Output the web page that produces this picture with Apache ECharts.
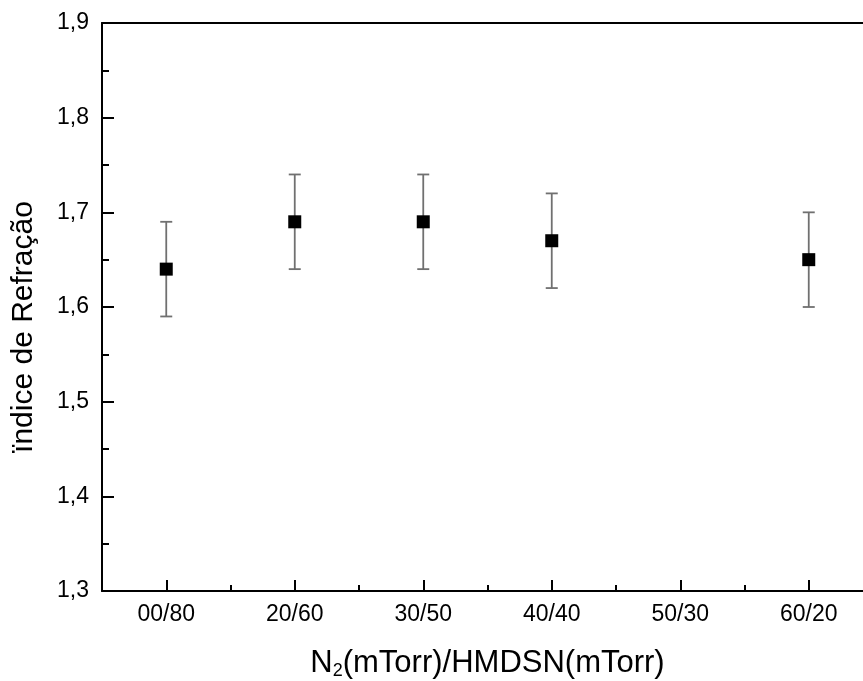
<!DOCTYPE html>
<html>
<head>
<meta charset="utf-8">
<script src="https://cdn.jsdelivr.net/npm/echarts@6/dist/echarts.min.js"></script>
<style>html,body{margin:0;padding:0;background:#fff;}#c{width:863px;height:681px;}</style>
</head>
<body>
<div id="c"></div>
<script>
const categories = ['00/80', '20/60', '30/50', '40/40', '50/30', '60/20'];
const values = [1.64, 1.69, 1.69, 1.67, null, 1.65];
const errors = [0.05, 0.05, 0.05, 0.05, null, 0.05];
const yMin = 1.3, yMax = 1.9, yStep = 0.1;
const xTitle = 'N{sub|2}(mTorr)/HMDSN(mTorr)';
const yTitle = 'ïndice de Refração';

const FONT = 'Liberation Sans, Arial, sans-serif';
const chart = echarts.init(document.getElementById('c'), null, {renderer: 'canvas'});

const pointData = [];
const errData = [];
categories.forEach((c, i) => {
  if (values[i] != null) {
    pointData.push([i, values[i]]);
    errData.push([i, values[i] - errors[i], values[i] + errors[i]]);
  }
});

const gridRect = {left: 102, top: 23, right: -10, bottom: 90, containLabel: false, outerBoundsMode: 'none', show: false};

chart.setOption({
  backgroundColor: '#fff',
  animation: false,
  grid: [Object.assign({}, gridRect), Object.assign({}, gridRect), Object.assign({}, gridRect)],
  xAxis: [{
    type: 'category', gridIndex: 0, data: categories, boundaryGap: true, position: 'bottom',
    axisLine: {show: true, lineStyle: {color: '#000', width: 2}},
    axisTick: {show: true, inside: true, alignWithLabel: true, length: 11, lineStyle: {color: '#000', width: 2}},
    axisLabel: {color: '#000', fontSize: 23, fontFamily: FONT, margin: 12, interval: 0},
    splitLine: {show: false},
    name: xTitle, nameLocation: 'middle', nameGap: 56,
    nameTextStyle: {color: '#000', fontSize: 31, fontFamily: FONT,
      rich: {sub: {fontSize: 18, fontFamily: FONT, color: '#000', verticalAlign: 'bottom', padding: [15, 0, 0, 0]}}}
  }, {
    type: 'category', gridIndex: 1, data: categories, boundaryGap: true, position: 'bottom',
    axisLine: {show: false},
    axisTick: {show: true, inside: true, alignWithLabel: false, length: 6, lineStyle: {color: '#000', width: 2}},
    axisLabel: {show: false}, splitLine: {show: false}
  }, {
    type: 'category', gridIndex: 2, data: categories, boundaryGap: true, position: 'top',
    axisLine: {show: true, lineStyle: {color: '#000', width: 2}},
    axisTick: {show: false}, axisLabel: {show: false}, splitLine: {show: false}
  }],
  yAxis: [{
    type: 'value', gridIndex: 0, min: yMin, max: yMax, interval: yStep,
    axisLine: {show: true, lineStyle: {color: '#000', width: 2}},
    axisTick: {show: true, inside: true, length: 12, lineStyle: {color: '#000', width: 2}},
    minorTick: {show: true, splitNumber: 2, length: 7, lineStyle: {color: '#000', width: 2}},
    axisLabel: {color: '#000', fontSize: 23, fontFamily: FONT, margin: 13,
      formatter: v => v.toFixed(1).replace('.', ',')},
    splitLine: {show: false},
    name: yTitle, nameLocation: 'middle', nameGap: 63, nameRotate: 90,
    nameTextStyle: {color: '#000', fontSize: 30, fontFamily: FONT, padding: [0, 40, 0, 0]}
  }, {
    type: 'value', gridIndex: 1, min: yMin, max: yMax, show: false
  }, {
    type: 'value', gridIndex: 2, min: yMin, max: yMax, show: false
  }],
  series: [{
    type: 'custom', xAxisIndex: 0, yAxisIndex: 0, data: errData, z: 3,
    renderItem: function (params, api) {
      const x = api.value(0);
      const lo = api.coord([x, api.value(1)]);
      const hi = api.coord([x, api.value(2)]);
      const half = 6;
      const style = {stroke: '#707070', lineWidth: 1.8};
      return {type: 'group', children: [
        {type: 'line', shape: {x1: lo[0], y1: lo[1], x2: hi[0], y2: hi[1]}, style: style},
        {type: 'line', shape: {x1: lo[0] - half, y1: lo[1], x2: lo[0] + half, y2: lo[1]}, style: style},
        {type: 'line', shape: {x1: hi[0] - half, y1: hi[1], x2: hi[0] + half, y2: hi[1]}, style: style}
      ]};
    }
  }, {
    type: 'scatter', xAxisIndex: 0, yAxisIndex: 0, data: pointData, z: 5,
    symbol: 'rect', symbolSize: 13, itemStyle: {color: '#000', opacity: 1}
  }]
});
</script>
</body>
</html>
